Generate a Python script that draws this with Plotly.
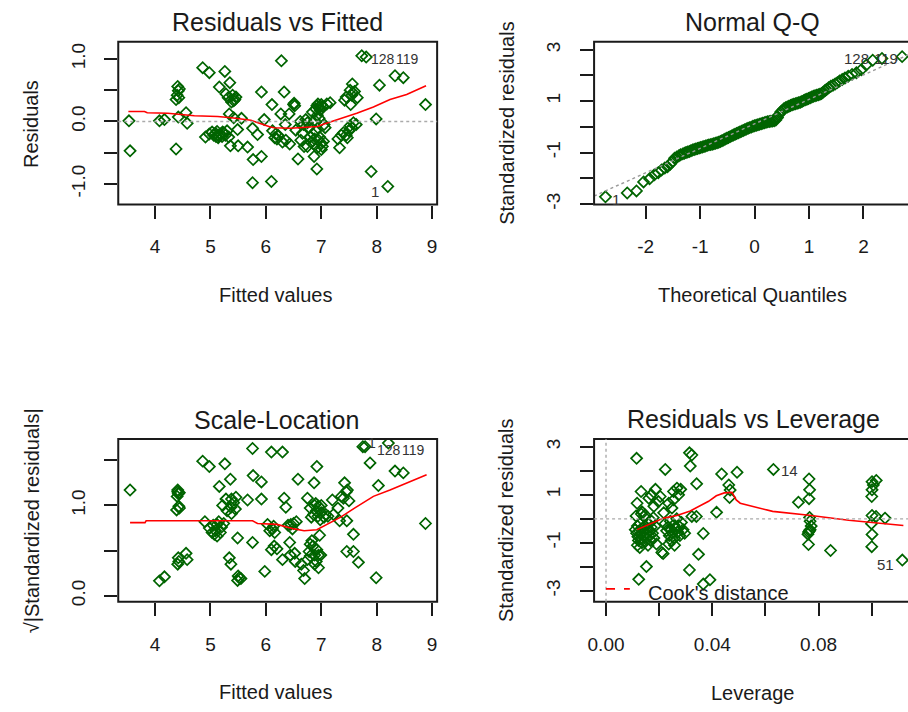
import plotly.graph_objects as go

# ---------------- data ----------------
# Panel 1: Residuals vs Fitted
fitted = [3.53, 3.55, 4.08, 4.17, 4.38, 4.41, 4.42, 4.40, 4.38, 4.43, 4.44, 4.42, 4.56, 4.58,
          4.86, 4.98, 5.26, 5.16, 5.35, 5.28, 5.32, 5.40, 5.44, 5.38, 5.46, 5.42, 5.34, 5.42, 5.56,
          4.91, 4.98, 5.03, 5.06, 5.09, 5.12, 5.15, 5.18, 5.21, 5.24, 5.27, 5.30, 5.33, 5.14, 5.22, 5.10,
          5.36, 5.50, 5.67, 5.49, 5.76, 5.85, 5.77, 5.92, 5.76, 6.10, 5.92, 6.11, 5.97, 6.12, 6.18, 6.16,
          6.22, 6.20, 6.28, 6.33, 6.51, 6.52, 6.50, 6.42, 6.27, 6.58, 6.87, 6.92, 6.30, 6.36, 6.43, 6.35,
          6.62, 6.68, 6.72, 6.75, 6.66, 6.54, 6.63, 6.69, 6.75, 6.78, 6.80, 6.82, 6.85, 6.86, 6.88, 6.90,
          6.90, 6.92, 6.94, 6.96, 6.98, 7.00, 7.02, 6.93, 6.95, 6.97, 7.00, 7.02, 7.04, 7.05, 7.07, 6.96,
          6.93, 7.10, 7.16, 7.00, 6.88, 6.84,
          7.30, 7.33, 7.36, 7.40, 7.45, 7.50, 7.52, 7.58, 7.55, 7.47, 7.42, 7.45, 7.52, 7.55, 7.57, 7.53,
          7.56, 7.60, 7.63, 7.65, 7.73, 7.81, 8.05, 8.33, 8.48, 7.99, 7.90, 8.20, 8.88]
residuals = [0.01, -0.47, 0.01, 0.03, -0.44, 0.56, 0.49, 0.42, 0.35, 0.38, 0.52, 0.07, 0.14, -0.03,
             0.86, 0.78, 0.80, 0.55, 0.62, 0.44, 0.38, 0.42, 0.35, 0.31, 0.39, 0.33, 0.12, 0.06, 0.05,
             -0.25, -0.20, -0.17, -0.22, -0.19, -0.16, -0.23, -0.20, -0.24, -0.18, -0.22, -0.15, -0.25, -0.26, -0.17, -0.24,
             -0.39, -0.39, -0.41, -0.13, -0.11, -0.21, -0.61, -0.56, -0.98, -0.96, 0.47, 0.27, 0.03, -0.15, -0.20, -0.26,
             -0.22, -0.28, 0.97, 0.47, 0.29, 0.25, 0.27, 0.12, 0.12, -0.60, -0.56, -0.76, -0.33, -0.30, -0.36, -0.05,
             0.00, -0.05, 0.03, -0.02, -0.19, -0.14, -0.30, -0.40, -0.40, -0.10, -0.25, -0.33, -0.20, -0.36, -0.28, -0.15,
             0.20, 0.25, 0.28, 0.22, 0.18, 0.27, 0.24, -0.42, -0.30, -0.25, -0.35, -0.40, -0.32, -0.05, -0.10, 0.05,
             0.10, 0.28, 0.30, -0.45, 0.02, 0.15,
             -0.28, -0.42, -0.22, -0.18, -0.22, -0.15, -0.07, -0.02, -0.10, -0.26, 0.34, 0.39, 0.50, 0.42, 0.46, 0.27,
             0.60, 0.48, -0.05, 0.38, 1.05, 1.03, 0.58, 0.73, 0.70, 0.04, -0.80, -1.04, 0.27]
rvf_smooth_x = [3.52, 3.81, 3.86, 4.23, 4.71, 5.13, 5.38, 5.73, 6.08, 6.15, 6.45, 6.75, 6.93, 7.05,
                7.35, 7.64, 7.94, 8.24, 8.54, 8.89]
rvf_smooth_y = [0.16, 0.16, 0.14, 0.13, 0.09, 0.08, 0.06, 0.02, -0.09, -0.10, -0.11, -0.09, -0.08, -0.04,
                0.04, 0.13, 0.23, 0.35, 0.43, 0.57]
rvf_xticks = [4, 5, 6, 7, 8, 9]
rvf_xtext = ["4", "5", "6", "7", "8", "9"]
rvf_yticks = [-1.0, -0.5, 0.0, 0.5, 1.0]
rvf_ytext = ["-1.0", "", "0.0", "", "1.0"]

# Panel 2: Normal Q-Q
qq_theoretical = [-2.74, -2.34, -2.17, -2.04, -1.93, -1.84, -1.77, -1.71, -1.65, -1.60, -1.55, -1.51,
                  -1.47, -1.43, -1.39, -1.36, -1.32, -1.29, -1.26, -1.23, -1.20, -1.17, -1.14, -1.11,
                  -1.08, -1.05, -1.02, -0.99, -0.96, -0.93, -0.90, -0.87, -0.84, -0.81, -0.78, -0.75,
                  -0.72, -0.69, -0.66, -0.63, -0.60, -0.57, -0.54, -0.51, -0.48, -0.45, -0.42, -0.39,
                  -0.36, -0.33, -0.30, -0.27, -0.24, -0.21, -0.18, -0.15, -0.12, -0.09, -0.06, -0.03,
                  0.00, 0.03, 0.06, 0.09, 0.12, 0.15, 0.18, 0.21, 0.24, 0.27, 0.30, 0.33, 0.36, 0.39,
                  0.42, 0.45, 0.48, 0.51, 0.54, 0.57, 0.60, 0.63, 0.66, 0.69, 0.72, 0.75, 0.78, 0.81,
                  0.84, 0.87, 0.90, 0.93, 0.96, 0.99, 1.02, 1.05, 1.08, 1.11, 1.14, 1.17, 1.20, 1.23,
                  1.26, 1.29, 1.32, 1.36, 1.40, 1.44, 1.48, 1.52, 1.56, 1.61, 1.66, 1.72, 1.79, 1.87,
                  1.96, 2.05, 2.17, 2.34, 2.71]
qq_std_resid = [-2.72, -2.57, -2.49, -2.14, -2.02, -1.86, -1.78, -1.68, -1.60, -1.55, -1.45, -1.35,
                -1.22, -1.17, -1.12, -1.08, -1.05, -1.03, -1.00, -0.98, -0.96, -0.93, -0.90, -0.88,
                -0.86, -0.84, -0.82, -0.80, -0.78, -0.76, -0.74, -0.72, -0.70, -0.69, -0.68, -0.66,
                -0.64, -0.62, -0.60, -0.57, -0.54, -0.51, -0.47, -0.44, -0.41, -0.38, -0.35, -0.32,
                -0.29, -0.26, -0.23, -0.20, -0.17, -0.14, -0.11, -0.08, -0.05, -0.03, -0.01, 0.02,
                0.04, 0.06, 0.08, 0.10, 0.12, 0.14, 0.16, 0.18, 0.20, 0.21, 0.22, 0.23, 0.24, 0.27,
                0.36, 0.48, 0.58, 0.64, 0.70, 0.74, 0.77, 0.80, 0.83, 0.86, 0.88, 0.90, 0.92, 0.94,
                0.96, 0.99, 1.02, 1.05, 1.07, 1.10, 1.13, 1.16, 1.19, 1.21, 1.23, 1.25, 1.27, 1.30,
                1.35, 1.40, 1.45, 1.52, 1.58, 1.62, 1.67, 1.72, 1.78, 1.84, 1.90, 1.97, 2.04, 2.10,
                2.22, 2.40, 2.59, 2.66, 2.73]
qq_line_x = [-2.95, 2.82]
qq_line_y = [-2.69, 2.80]
qq_xticks = [-2, -1, 0, 1, 2]
qq_xtext = ["-2", "-1", "0", "1", "2"]
qq_yticks = [-3, -2, -1, 0, 1, 2, 3]
qq_ytext = ["-3", "", "-1", "", "1", "", "3"]

# Panel 3: Scale-Location
sl_fitted = [3.55, 4.41, 4.42, 4.40, 4.44, 4.41, 4.43, 4.39, 4.44, 4.08, 4.17, 4.42, 4.43, 4.56, 4.58, 4.41,
             4.86, 4.98, 5.26, 5.36, 5.16, 5.28, 5.38, 5.46, 5.22, 5.37, 5.45, 5.30, 5.38, 5.42,
             4.90, 4.98, 5.03, 5.07, 5.12, 5.15, 5.20, 5.05, 5.09, 5.24, 5.18, 5.12,
             5.34, 5.37, 5.49, 5.52, 5.50, 5.55, 5.49, 5.67, 5.76, 6.10, 5.77, 5.92, 5.92, 5.76, 6.10, 5.98,
             6.03, 6.07, 6.12, 6.16, 6.14,
             6.30, 6.92, 6.58, 6.87, 6.33, 6.36, 6.75, 6.40, 6.45, 6.50, 6.55, 6.48,
             6.80, 6.88, 6.90, 6.95, 7.00, 6.86, 6.94, 7.00, 7.05, 6.82, 6.91, 6.98, 7.08, 7.12,
             7.20, 7.22, 7.30, 7.33, 7.36, 7.42, 7.45, 7.47, 7.50, 7.40, 7.46, 7.58,
             7.88, 8.03, 8.33, 8.48, 7.75, 7.79, 8.21, 8.88, 7.99,
             6.43, 6.44, 6.30, 6.52, 6.53, 6.68, 6.70, 6.64, 6.75, 6.78, 6.80, 6.83, 6.88, 6.92, 6.95,
             6.97, 6.99, 6.91, 6.85, 6.80, 6.88, 6.95, 7.46, 7.58, 7.67, 6.15, 6.20]
sl_sqrt_std_resid = [1.17, 1.17, 1.13, 1.10, 1.14, 1.15, 0.99, 0.95, 0.97, 0.165, 0.21, 0.42, 0.38, 0.47, 0.40, 0.35,
                     1.49, 1.43, 1.46, 1.29, 1.21, 1.07, 1.07, 1.09, 1.00, 0.98, 0.96, 0.94, 0.91, 1.03,
                     0.82, 0.75, 0.70, 0.68, 0.79, 0.82, 0.76, 0.78, 0.72, 0.80, 0.70, 0.66,
                     0.42, 0.35, 0.17, 0.20, 0.22, 0.19, 0.64, 1.06, 1.63, 1.59, 1.33, 1.26, 1.07, 0.59, 0.51, 0.27,
                     0.79, 0.72, 0.74, 0.70, 0.77,
                     1.59, 1.43, 1.29, 1.25, 1.08, 0.98, 1.08, 0.78, 0.79, 0.80, 0.82, 0.74,
                     0.97, 1.00, 1.02, 0.99, 1.00, 0.90, 0.88, 0.92, 0.87, 0.87, 0.94, 0.84, 0.90, 0.88,
                     1.06, 0.90, 0.97, 0.83, 1.10, 1.25, 1.15, 1.17, 1.05, 1.08, 0.83, 0.68,
                     1.47, 1.22, 1.38, 1.36, 1.65, 1.65, 1.69, 0.80, 0.20,
                     0.59, 0.45, 0.40, 0.47, 0.38, 0.28, 0.19, 0.35, 0.40, 0.49, 0.57, 0.61, 0.45, 0.51, 0.31,
                     0.67, 0.45, 0.38, 0.55, 0.44, 0.35, 0.45, 0.49, 0.49, 0.37, 0.55, 0.52]
sl_smooth_x = [3.55, 3.82, 3.84, 5.76, 5.85, 6.20, 6.51, 6.69, 6.92, 7.11, 7.35, 7.60, 7.94, 8.24, 8.54, 8.90]
sl_smooth_y = [0.81, 0.81, 0.83, 0.83, 0.80, 0.79, 0.74, 0.72, 0.73, 0.79, 0.87, 0.97, 1.10, 1.17, 1.25, 1.34]
sl_yticks = [0.0, 0.5, 1.0, 1.5]
sl_ytext = ["0.0", "", "1.0", ""]

# Panel 4: Residuals vs Leverage
leverage = [0.0110, 0.0115, 0.0118, 0.0120, 0.0122, 0.0125, 0.0128, 0.0130, 0.0132, 0.0135, 0.0138, 0.0140,
            0.0142, 0.0145, 0.0148, 0.0150, 0.0152, 0.0155, 0.0158, 0.0160, 0.0162, 0.0165, 0.0168, 0.0170,
            0.0172, 0.0175, 0.0178, 0.0180, 0.0185, 0.0190, 0.0113, 0.0118, 0.0127, 0.0133, 0.0143,
            0.0117, 0.0132, 0.0161, 0.0186, 0.0204, 0.0180, 0.0254, 0.0267, 0.0281, 0.0236, 0.0254, 0.0248,
            0.0273, 0.0135, 0.0147, 0.0197, 0.0170, 0.0217,
            0.0222, 0.0228, 0.0232, 0.0238, 0.0242, 0.0246, 0.0250, 0.0255, 0.0258, 0.0262, 0.0266, 0.0270,
            0.0274, 0.0278, 0.0284, 0.0290, 0.0296, 0.0245, 0.0236, 0.0258,
            0.0323, 0.0340, 0.0416, 0.0366, 0.0348, 0.0314, 0.0210, 0.0215, 0.0152, 0.0123, 0.0366, 0.0391,
            0.0435, 0.0115, 0.0314, 0.0323, 0.0317, 0.0223, 0.0341, 0.0493, 0.0462, 0.0467, 0.0465,
            0.0630, 0.0764, 0.0766, 0.0764, 0.0724, 0.0766, 0.0768, 0.0772, 0.0768, 0.0762, 0.0766, 0.0760,
            0.0762, 0.0845, 0.1001, 0.1006, 0.1001, 0.1000, 0.1001, 0.1016, 0.1050, 0.0999, 0.1001, 0.1000,
            0.1115, 0.1017]
lev_std_resid = [-0.45, -0.60, -0.30, -0.75, -0.90, -0.50, -0.20, -0.65, -0.85, -1.00, -0.40, -0.55,
                 -0.70, -0.30, -0.95, -0.60, -0.80, -0.45, -1.10, -0.20, -0.70, -0.50, -0.90, -0.35,
                 -0.10, -0.60, 0.05, -0.80, -0.30, -1.05, 0.12, -1.10, -1.20, 0.20, 0.10,
                 0.65, 1.14, 0.86, 1.23, 0.93, 0.52, 1.14, 1.28, 1.23, 0.65, 0.79, 0.45,
                 1.00, 0.30, 0.16, 0.72, 1.00, 0.25,
                 -0.20, -0.50, -0.35, -0.70, -0.10, -0.45, -0.60, -0.25, -0.80, -0.40, 0.00, -0.55,
                 -0.30, -0.70, -0.15, -0.45, -0.60, -0.90, -1.05, -1.10,
                 0.10, 0.10, 0.27, -0.61, -1.48, -2.13, -1.40, -1.45, -1.99, -2.52, -2.72, -2.54,
                 1.87, 2.52, 2.75, 2.66, 2.20, 2.06, 1.46, 1.94, 1.41, 1.20, 0.89,
                 2.06, 1.66, 1.21, 0.84, 0.69, 0.06, -0.10, -0.30, -0.45, -0.55, -0.50, -0.64,
                 -1.07, -1.32, 1.55, 1.41, 1.21, 0.93, 0.14, 0.10, 0.03, -0.20, -0.65, -1.16,
                 -1.72, 1.60]
lev_smooth_x = [0.0117, 0.0167, 0.0217, 0.0267, 0.0317, 0.0386, 0.0415, 0.0445, 0.0474, 0.0490, 0.0505,
                0.0627, 0.0685, 0.0764, 0.0913, 0.0997, 0.1119]
lev_smooth_y = [-0.45, -0.20, 0.03, 0.14, 0.33, 0.73, 0.96, 1.08, 1.10, 0.79, 0.65,
                0.31, 0.25, 0.15, -0.06, -0.14, -0.28]
lev_xticks = [0.00, 0.02, 0.04, 0.06, 0.08, 0.10]
lev_xtext = ["0.00", "", "0.04", "", "0.08", ""]
lev_yticks = [-3, -2, -1, 0, 1, 2, 3]
lev_ytext = ["-3", "", "-1", "", "1", "", "3"]

# ---------------- layout helpers ----------------
W, H = 908, 712
FONT = "Liberation Sans, Arial, sans-serif"
GREEN = "#006400"
INK = "#1a1a1a"


def fx(p):
    return p / W


def fy(p):
    return 1 - p / H


def xa(i):
    return "x" if i == 1 else f"x{i}"


def ya(i):
    return "y" if i == 1 else f"y{i}"


# pixel boxes of the four plot regions (left, top, right, bottom)
boxes = {
    1: (113, 42, 434, 206),
    2: (592, 42, 908, 206),
    3: (113, 442, 434, 606),
    4: (592, 442, 908, 606),
}
ranges = {
    1: ([3.337, 9.09], [-1.329, 1.275]),
    2: ([-2.949, 2.818], [-3.02, 3.31]),
    3: ([3.337, 9.09], [-0.066, 1.736]),
    4: ([-0.00449, 0.11364], [-3.455, 3.331]),
}
ticks = {
    1: (rvf_xticks, rvf_xtext, rvf_yticks, rvf_ytext),
    2: (qq_xticks, qq_xtext, qq_yticks, qq_ytext),
    3: (rvf_xticks, rvf_xtext, sl_yticks, sl_ytext),
    4: (lev_xticks, lev_xtext, lev_yticks, lev_ytext),
}

fig = go.Figure()


def add_points(i, xs, ys):
    fig.add_trace(go.Scatter(
        x=xs, y=ys, mode="markers", xaxis=xa(i), yaxis=ya(i),
        marker=dict(symbol="diamond-open", size=8.5, color=GREEN, line=dict(width=1.7, color=GREEN)),
        showlegend=False, hoverinfo="skip"))


def add_line(i, xs, ys, color, dash="solid", width=1.6):
    fig.add_trace(go.Scatter(
        x=xs, y=ys, mode="lines", xaxis=xa(i), yaxis=ya(i),
        line=dict(color=color, width=width, dash=dash),
        showlegend=False, hoverinfo="skip"))


add_points(1, fitted, residuals)
add_line(1, rvf_smooth_x, rvf_smooth_y, "red")
add_points(2, qq_theoretical, qq_std_resid)
add_line(2, qq_line_x, qq_line_y, "#999999", dash="dot", width=1.4)
add_points(3, sl_fitted, sl_sqrt_std_resid)
add_line(3, sl_smooth_x, sl_smooth_y, "red")
add_points(4, leverage, lev_std_resid)
add_line(4, lev_smooth_x, lev_smooth_y, "red")

layout = dict(
    width=W, height=H, margin=dict(l=0, r=0, t=0, b=0),
    paper_bgcolor="white", plot_bgcolor="white",
    font=dict(family=FONT, color=INK),
    showlegend=False,
)
for i, (l, t, r, b) in boxes.items():
    xr, yr = ranges[i]
    xtv, xtt, ytv, ytt = ticks[i]
    common = dict(showgrid=False, zeroline=False, showline=False, ticks="outside",
                  ticklen=13, tickwidth=1.6, tickcolor=INK, fixedrange=True,
                  tickfont=dict(family=FONT, size=19, color=INK), tickmode="array")
    key = "" if i == 1 else str(i)
    layout[f"xaxis{key}"] = dict(common, domain=[fx(l), min(fx(r), 1.0)], range=xr,
                                 anchor=ya(i), tickvals=xtv, ticktext=xtt,
                                 ticklabelstandoff=12)
    layout[f"yaxis{key}"] = dict(common, domain=[fy(b), fy(t)], range=yr,
                                 anchor=xa(i), tickvals=ytv, ticktext=ytt,
                                 tickangle=-90, ticklabelstandoff=12)
fig.update_layout(**layout)

shapes = []
# plot frames
for i, (l, t, r, b) in boxes.items():
    right = r if r < W else W + 20
    shapes.append(dict(type="rect", xref="paper", yref="paper",
                       x0=fx(l), x1=fx(right), y0=fy(b), y1=fy(t),
                       line=dict(color=INK, width=2), fillcolor="rgba(0,0,0,0)", layer="above"))
# reference lines
shapes.append(dict(type="line", xref="x domain", yref="y", x0=0, x1=1, y0=0, y1=0,
                   line=dict(color="#aaaaaa", width=1.4, dash="dot")))
shapes.append(dict(type="line", xref="x4 domain", yref="y4", x0=0, x1=1, y0=0, y1=0,
                   line=dict(color="#aaaaaa", width=1.4, dash="dot")))
shapes.append(dict(type="line", xref="x4", yref="y4 domain", x0=0, x1=0, y0=0, y1=1,
                   line=dict(color="#aaaaaa", width=1.4, dash="dot")))
# Cook's distance legend key
shapes.append(dict(type="line", xref="paper", yref="paper", x0=fx(604), x1=fx(628),
                   y0=fy(593), y1=fy(593), line=dict(color="red", width=1.6, dash="dash")))
fig.update_layout(shapes=shapes)

ann = []


def text(px, py, s, size=20, angle=0, xanchor="center"):
    ann.append(dict(x=fx(px), y=fy(py), xref="paper", yref="paper", text=s, showarrow=False,
                    textangle=angle, xanchor=xanchor, yanchor="middle",
                    font=dict(family=FONT, size=size, color=INK)))


# titles
text(273, 22, "Residuals vs Fitted", size=25)
text(751, 22, "Normal Q-Q", size=25)
text(272, 423, "Scale-Location", size=25)
text(752, 422, "Residuals vs Leverage", size=25)
# axis titles
text(271, 297, "Fitted values")
text(751, 297, "Theoretical Quantiles")
text(271, 697, "Fitted values")
text(751, 698, "Leverage")
text(25, 125, "Residuals", angle=-90)
text(504, 124, "Standardized residuals", angle=-90)
text(26, 524, "√|Standardized residuals|", angle=-90)
text(504, 524, "Standardized residuals", angle=-90)
# legend text
text(644, 597, "Cook's distance", xanchor="left")


def idlabel(i, x, y, s, size=15):
    ann.append(dict(x=x, y=y, xref=xa(i), yref=ya(i), text=s, showarrow=False,
                    xanchor="center", yanchor="middle",
                    font=dict(family=FONT, size=size, color="#333333")))


# identified observations
idlabel(1, 8.12, 1.0, "128", size=14)
idlabel(1, 8.55, 1.0, "119", size=14)
idlabel(1, 7.97, -1.12, "1")
idlabel(2, 1.88, 2.64, "128")
idlabel(2, 2.42, 2.64, "119")
idlabel(2, -2.55, -2.81, "1")
idlabel(3, 7.92, 1.69, "1", size=14)
idlabel(3, 8.23, 1.615, "128", size=14)
idlabel(3, 8.66, 1.615, "119", size=14)
idlabel(4, 0.0692, 2.0, "14")
idlabel(4, 0.1053, -1.89, "51")
fig.update_layout(annotations=ann)

fig.write_html("out.html")
